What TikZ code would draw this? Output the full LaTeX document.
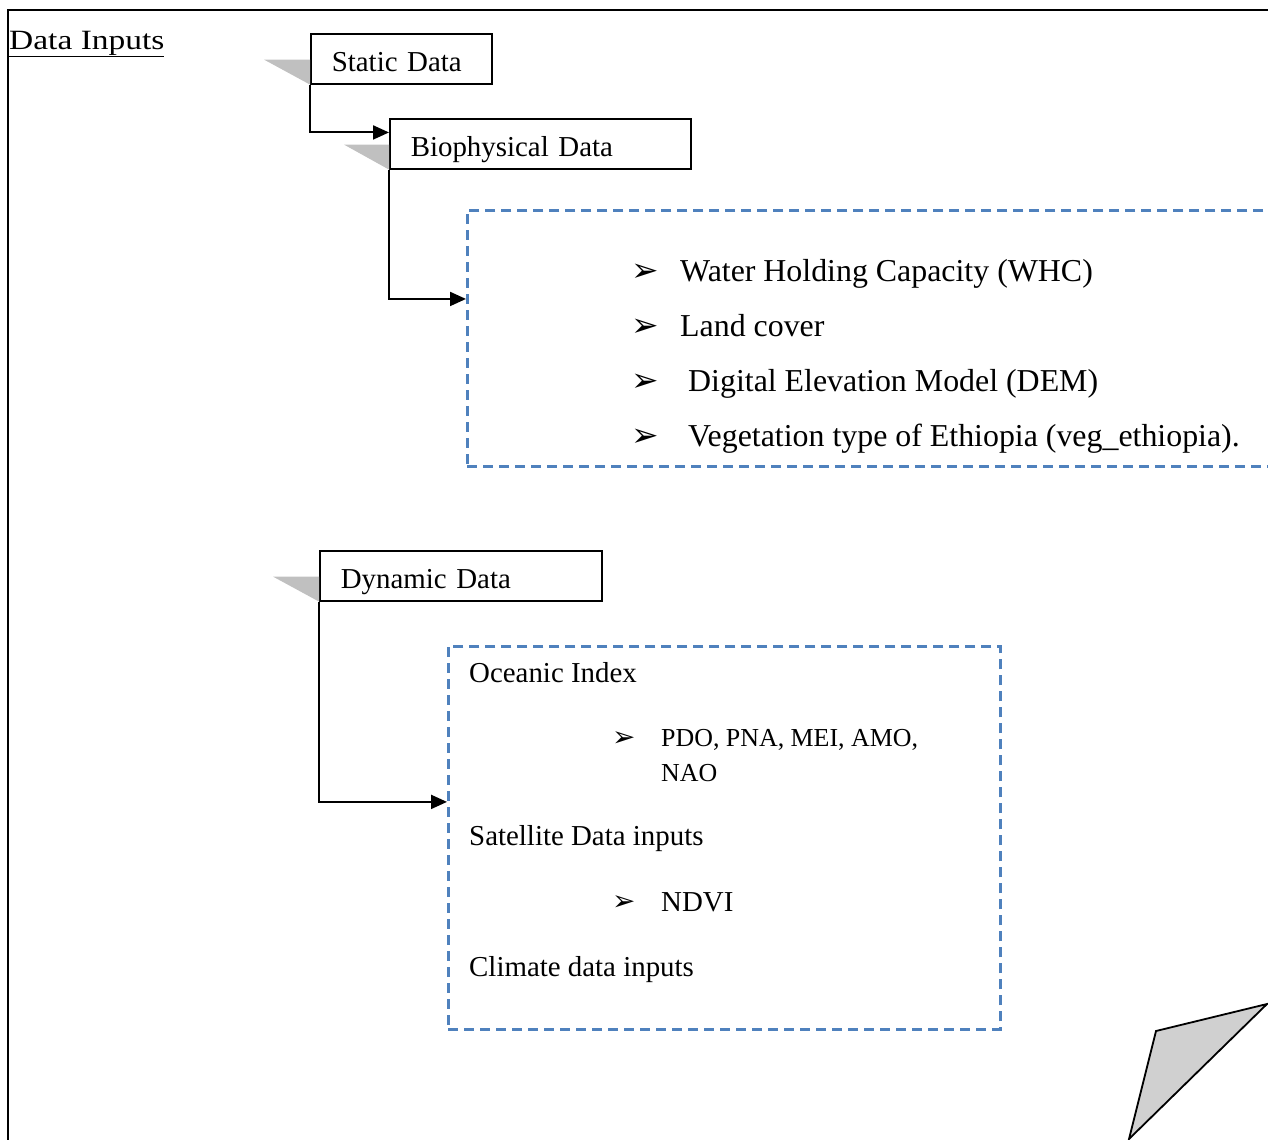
\documentclass[tikz,border=0pt]{standalone}
\usepackage{fontspec}
\setmainfont{Liberation Serif}
\newfontfamily\titlefont[FakeStretch=1.2]{Liberation Serif}
\newfontfamily\dingfont{DejaVu Sans}
\usetikzlibrary{positioning,calc,arrows.meta}

\definecolor{boxblue}{HTML}{4F81BD}
\definecolor{flaggray}{HTML}{C0C0C0}
\definecolor{foldgray}{HTML}{D0D0D0}

\begin{document}
\begin{tikzpicture}[
    x=1bp, y=-1bp,
    every node/.style={inner sep=0pt},
    databox/.style={draw, line width=1.6bp, anchor=north west, minimum height=50bp,
      text width=#1, text height=26bp, text depth=0bp, inner xsep=21bp, align=left,
      font=\fontsize{29}{34}\selectfont},
    listbox/.style={draw=boxblue, line width=2.5bp, dash pattern=on 10bp off 6bp, anchor=north west},
    flag/.style={fill=flaggray},
    link/.style={line width=2bp, -{Triangle[length=16bp,width=14bp]}},
    item/.style={anchor=base west, font=\fontsize{32}{36}\selectfont},
    subitem/.style={anchor=base west, font=\fontsize{29}{34}\selectfont},
    bullet/.style={anchor=base west, font=\dingfont\fontsize{#1}{28}\selectfont}
  ]
    \useasboundingbox (0,0) rectangle (1268,1140);
    \clip (0,0) rectangle (1268,1140);
    \draw[line width=1.8bp] (8,10) rectangle (1300,1170);

    \node[anchor=base west, font=\titlefont\fontsize{28}{32}\selectfont] (title) at (9,49) {\underline{Data Inputs}};

    % static branch
    \node[databox=139bp] (static) at (310,33) {Static Data};
    \node[databox=259bp] (bio) at (389,118) {Biophysical Data};
    \node[listbox, minimum width=830bp, minimum height=256bp] (statlist) at (466,209) {};
    \fill[flag] (static.south west) -- ++(0,-25) -- ++(-46,0) -- cycle;
    \fill[flag] (bio.south west) -- ++(0,-25) -- ++(-45,0) -- cycle;
    \draw[link] (static.south west) |- ($(bio.north west)!0.28!(bio.south west)$);
    \draw[link] (bio.south west) |- ($(statlist.north west)!0.348!(statlist.south west)$);

    \foreach \yy/\dx/\txt [count=\i] in {281/0/Water Holding Capacity (WHC), 336/0/Land cover,
        391/8/Digital Elevation Model (DEM), 446/8/Vegetation type of Ethiopia (veg\_ethiopia).}{
      \node[bullet=33] (sb\i) at (631,\yy) {➢};
      \node[item] (si\i) at (680+\dx,\yy) {\txt};
    }

    % dynamic branch
    \node[databox=240bp] (dynamic) at (319,550) {Dynamic Data};
    \node[listbox, minimum width=552bp, minimum height=383bp] (dynlist) at (447,645) {};
    \fill[flag] (dynamic.south west) -- ++(0,-25) -- ++(-46,0) -- cycle;
    \draw[link] (dynamic.south west) |- ($(dynlist.north west)!0.407!(dynlist.south west)$);

    \node[subitem] (ocean) at (469,682) {Oceanic Index};
    \node[bullet=28] (db1) at (612,746) {➢};
    \node[anchor=base west, font=\fontsize{26}{30}\selectfont] (pdo) at (661,746) {PDO, PNA, MEI, AMO,};
    \node[anchor=base west, font=\fontsize{26}{30}\selectfont] (nao) at (661,781) {NAO};
    \node[subitem] (sat) at (469,845) {Satellite Data inputs};
    \node[bullet=28] (db2) at (612,910) {➢};
    \node[subitem] (ndvi) at (661,911) {NDVI};
    \node[subitem] (clim) at (469,976) {Climate data inputs};

    % folded corner
    \filldraw[fill=foldgray, line width=1.8bp] (1156,1031) -- (1267,1004) -- (1129,1139) -- cycle;
  \end{tikzpicture}
\end{document}
